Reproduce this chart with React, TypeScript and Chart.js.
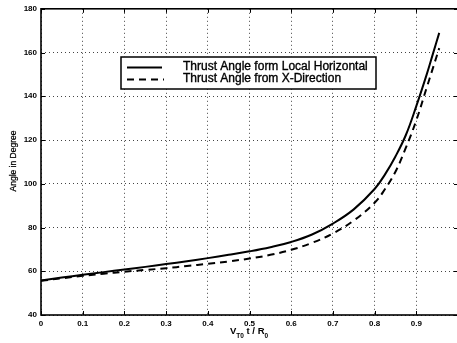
import React, { useEffect, useRef } from "react";
import { Chart, registerables } from "chart.js";

Chart.register(...registerables);

const xValues = [0, 0.05, 0.1, 0.15, 0.2, 0.25, 0.3, 0.35, 0.4, 0.45, 0.5, 0.55, 0.6, 0.65, 0.7, 0.75, 0.8, 0.825, 0.85, 0.875, 0.9, 0.925, 0.94, 0.955];
const localHorizontal = [55.8, 57.1, 58.4, 59.6, 60.8, 62.0, 63.3, 64.6, 66.0, 67.5, 69.1, 71.0, 73.4, 76.8, 81.8, 88.3, 97.6, 104.3, 112.5, 122.3, 135.5, 150, 159.5, 169];
const xDirection = [55.6, 56.8, 57.9, 58.9, 59.8, 60.6, 61.4, 62.4, 63.4, 64.5, 65.8, 67.5, 69.8, 73.0, 77.3, 83.2, 91.3, 97.6, 105.5, 116.5, 129, 144, 153, 162];
const seriesLabels = ["Thrust Angle form Local Horizontal", "Thrust Angle from X-Direction"];
const xTickLabels = ["0", "0.1", "0.2", "0.3", "0.4", "0.5", "0.6", "0.7", "0.8", "0.9", ""];
const yTitle = "Angle in Degree";

const FONT = "Arial, 'Liberation Sans', Helvetica, sans-serif";

const framePlugin = {
  id: "frame",
  afterDatasetsDraw(chart: any) {
    const { ctx, chartArea: a, scales } = chart;
    ctx.save();
    ctx.strokeStyle = "#000";
    ctx.lineWidth = 1;
    ctx.setLineDash([]);
    scales.x.ticks.forEach((t: any) => {
      const px = Math.round(scales.x.getPixelForValue(t.value)) + 0.5;
      ctx.beginPath();
      ctx.moveTo(px, a.bottom);
      ctx.lineTo(px, a.bottom - 4);
      ctx.moveTo(px, a.top);
      ctx.lineTo(px, a.top + 4);
      ctx.stroke();
    });
    scales.y.ticks.forEach((t: any) => {
      const py = Math.round(scales.y.getPixelForValue(t.value)) + 0.5;
      ctx.beginPath();
      ctx.moveTo(a.left, py);
      ctx.lineTo(a.left + 4, py);
      ctx.moveTo(a.right, py);
      ctx.lineTo(a.right - 4, py);
      ctx.stroke();
    });
    ctx.lineWidth = 1.6;
    ctx.strokeRect(a.left, a.top, a.right - a.left, a.bottom - a.top);

    // legend box
    const bx = 121, by = 57, bw = 255, bh = 32;
    ctx.fillStyle = "#fff";
    ctx.fillRect(bx, by, bw, bh);
    ctx.lineWidth = 1.5;
    ctx.strokeRect(bx, by, bw, bh);
    ctx.lineWidth = 1.8;
    ctx.beginPath();
    ctx.moveTo(127, 67.5);
    ctx.lineTo(162, 67.5);
    ctx.stroke();
    ctx.setLineDash([7, 5]);
    ctx.beginPath();
    ctx.moveTo(127, 79.5);
    ctx.lineTo(164, 79.5);
    ctx.stroke();
    ctx.setLineDash([]);
    ctx.fillStyle = "#000";
    ctx.font = `12px ${FONT}`;
    ctx.textBaseline = "middle";
    ctx.textAlign = "left";
    ctx.lineWidth = 0.35;
    seriesLabels.forEach((s, i) => {
      ctx.fillText(s, 183, 67 + i * 12);
      ctx.strokeText(s, 183, 67 + i * 12);
    });

    // x title with subscripts: V_{T0} t / R_0
    const parts: [string, boolean][] = [["V", false], ["T0", true], [" t / R", false], ["0", true]];
    const mainFont = `bold 9.5px ${FONT}`;
    const subFont = `bold 6.5px ${FONT}`;
    let x = 230;
    ctx.textBaseline = "alphabetic";
    parts.forEach(([s, sub]) => {
      ctx.font = sub ? subFont : mainFont;
      ctx.fillText(s, x, sub ? 338 : 334);
      x += ctx.measureText(s).width;
    });

    // y title
    ctx.save();
    ctx.translate(14, 161);
    ctx.rotate(-Math.PI / 2);
    ctx.font = `8.5px ${FONT}`;
    ctx.textAlign = "center";
    ctx.textBaseline = "middle";
    ctx.lineWidth = 0.25;
    ctx.fillText(yTitle, 0, 0);
    ctx.strokeText(yTitle, 0, 0);
    ctx.restore();

    ctx.restore();
  },
};

export default function App() {
  const ref = useRef<HTMLCanvasElement>(null);
  useEffect(() => {
    if (!ref.current) return;
    const chart = new Chart(ref.current, {
      type: "line",
      data: {
        datasets: [
          {
            label: seriesLabels[0],
            data: xValues.map((x, i) => ({ x, y: localHorizontal[i] })),
            borderColor: "#000",
            borderWidth: 2,
            pointRadius: 0,
            tension: 0.4,
          },
          {
            label: seriesLabels[1],
            data: xValues.map((x, i) => ({ x, y: xDirection[i] })),
            borderColor: "#000",
            borderWidth: 2,
            borderDash: [7, 5],
            pointRadius: 0,
            tension: 0.4,
          },
        ],
      },
      options: {
        responsive: false,
        animation: false,
        devicePixelRatio: 1,
        layout: { padding: { top: 7, right: 4, left: 0, bottom: 0 } },
        plugins: { legend: { display: false }, tooltip: { enabled: false } },
        scales: {
          x: {
            type: "linear",
            min: 0,
            max: 1,
            afterFit: (s: any) => {
              s.height = 28;
            },
            ticks: {
              stepSize: 0.1,
              autoSkip: false,
              maxRotation: 0,
              padding: 4,
              color: "#000",
              font: { size: 8, weight: "bold", family: FONT },
              callback: (v: any) => xTickLabels[Math.round(Number(v) * 10)] ?? "",
            },
            grid: { color: "#444", lineWidth: 1, drawTicks: false },
            border: { display: false, dash: [1, 3] } as any,
          },
          y: {
            min: 40,
            max: 180,
            afterFit: (s: any) => {
              s.width = 41;
            },
            ticks: {
              stepSize: 20,
              autoSkip: false,
              padding: 4,
              color: "#000",
              font: { size: 8, weight: "bold", family: FONT },
            },
            grid: { color: "#444", lineWidth: 1, drawTicks: false },
            border: { display: false, dash: [1, 3] } as any,
          },
        },
      },
      plugins: [framePlugin],
    });
    return () => chart.destroy();
  }, []);
  return (
    <div style={{ position: "fixed", left: 0, top: 0, width: 457, height: 343, overflow: "hidden", background: "#fff" }}>
      <canvas ref={ref} width={462} height={343} style={{ display: "block" }} />
    </div>
  );
}
